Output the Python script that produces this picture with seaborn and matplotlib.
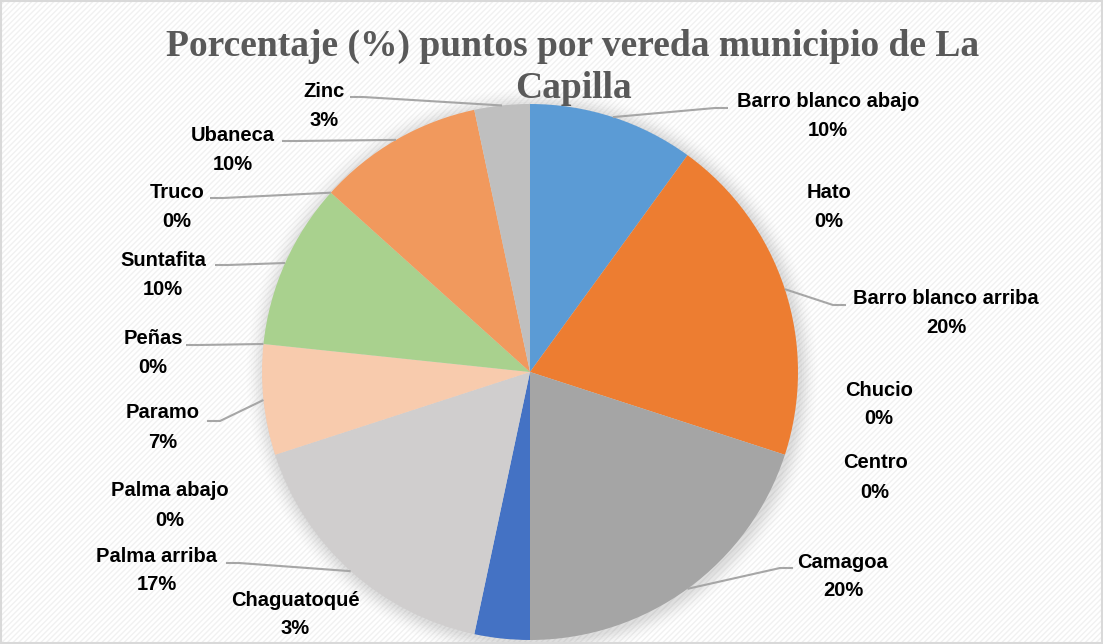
import matplotlib
matplotlib.use("Agg")
import matplotlib.pyplot as plt
import seaborn as sns
import numpy as np
from matplotlib.patches import Rectangle, Circle

# ---- data ----
categories = ["Barro blanco abajo", "Hato", "Barro blanco arriba", "Chucio", "Centro",
              "Camagoa", "Chaguatoqué", "Palma arriba", "Palma abajo", "Paramo",
              "Peñas", "Suntafita", "Truco", "Ubaneca", "Zinc"]
points = [3, 0, 6, 0, 0, 6, 1, 5, 0, 2, 0, 3, 0, 3, 1]
colors = ["#5B9BD5", "#ED7D31", "#ED7D31", "#A5A5A5", "#FFC000",
          "#A5A5A5", "#4472C4", "#D0CECE", "#9E480E", "#F8CBAD",
          "#A9D18E", "#A9D18E", "#7CAFDD", "#F1995D", "#BFBFBF"]
title_lines = ["Porcentaje (%) puntos por vereda municipio de La", "Capilla"]

# ---- layout (pixel coordinates, y measured from top) ----
W, H = 1103, 644
CX, CY, R = 530, 372, 268
label_pos = [(828, 101), (829, 192), (946, 298), (879, 390), (875, 463),
             (843, 562), (295, 600), (157, 556), (170, 491), (163, 413),
             (153, 338), (163, 260), (177, 192), (233, 135), (324, 91)]
leader_end = [(728, 108), None, (846, 305), None, None,
              (793, 568), None, (226, 563), None, (207, 421),
              (186, 345), (215, 265), (210, 198), (282, 141), (350, 97)]
LINE_GAP = 29

sns.set_theme(style="white")
plt.rcParams["font.family"] = ["Liberation Sans", "DejaVu Sans"]

fig = plt.figure(figsize=(W / 100, H / 100), dpi=100)
ax = fig.add_axes([0, 0, 1, 1])

def yd(y):
    return H - y

# background with faint diagonal stripes
plt.rcParams["hatch.linewidth"] = 1.0
ax.add_patch(Rectangle((0, 0), W, H, facecolor="white", edgecolor="none", zorder=0))
ax.add_patch(Rectangle((0, 0), W, H, facecolor="none", edgecolor="#f1f1f1",
                       hatch="//////", lw=0, zorder=0.1))

# soft shadow around pie
for i, a in enumerate(np.linspace(0.05, 0.012, 8)):
    ax.add_patch(Circle((CX + 2, yd(CY) - 2), R + 2 + i * 2.2, facecolor="#7f7f7f",
                        edgecolor="none", alpha=a, zorder=0.5))

wedges, _ = ax.pie(points, colors=colors, startangle=90, counterclock=False,
                   center=(CX, yd(CY)), radius=R, frame=True,
                   wedgeprops=dict(linewidth=0, zorder=2))
for w in wedges:
    w.set_zorder(2)

total = sum(points)
for w, name, v, (lx, ly), le in zip(wedges, categories, points, label_pos, leader_end):
    pct = f"{round(100 * v / total)}%"
    ax.text(lx, yd(ly), name, ha="center", va="center", fontsize=14.5,
            fontweight="bold", color="black", zorder=5)
    ax.text(lx, yd(ly + LINE_GAP), pct, ha="center", va="center", fontsize=14.5,
            fontweight="bold", color="black", zorder=5)
    if le is not None:
        mid = np.deg2rad((w.theta1 + w.theta2) / 2)
        sx, sy = CX + R * np.cos(mid), yd(CY) + R * np.sin(mid)
        ex, ey = le[0], yd(le[1])
        elbow_x = ex - 13 if ex > CX else ex + 13
        ax.plot([sx, elbow_x, ex], [sy, ey, ey], color="#a6a6a6", lw=1.5,
                zorder=3, solid_capstyle="butt")

# title
ax.text(573, yd(46), title_lines[0], ha="center", va="center", fontsize=27,
        fontweight="bold", color="#595959", family="Liberation Serif", zorder=6)
ax.text(573, yd(88), title_lines[1], ha="center", va="center", fontsize=27,
        fontweight="bold", color="#595959", family="Liberation Serif", zorder=6)

# outer border
ax.add_patch(Rectangle((1, 1), W - 2, H - 2, facecolor="none", edgecolor="#d9d9d9",
                       lw=1.5, zorder=7))

ax.set_xlim(0, W)
ax.set_ylim(0, H)
ax.set_aspect("auto")
ax.axis("off")

fig.savefig("out.png", dpi=100)
